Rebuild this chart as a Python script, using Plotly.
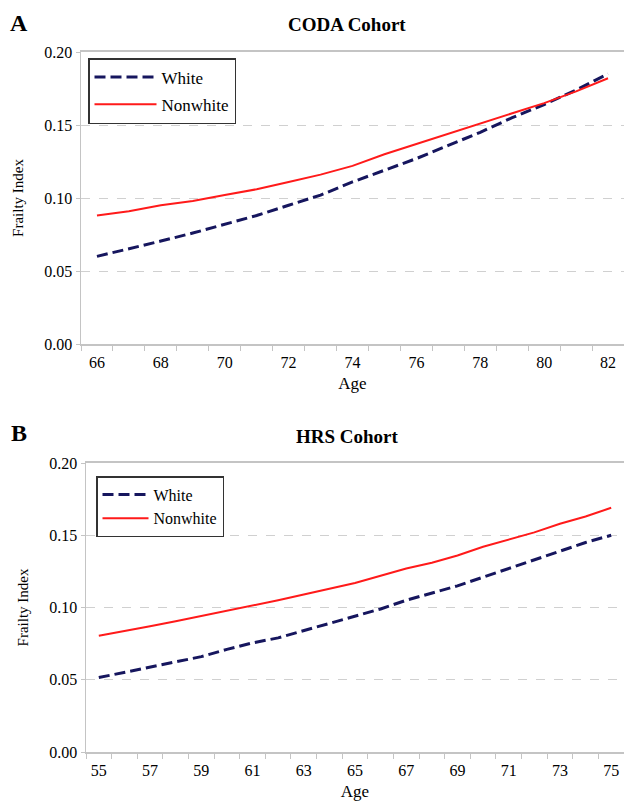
import plotly.graph_objects as go

# ---- data ----
ages_coda = list(range(66, 83))
coda_white = [0.060, 0.065, 0.0705, 0.076, 0.082, 0.088, 0.095, 0.102, 0.111,
              0.119, 0.127, 0.136, 0.145, 0.155, 0.164, 0.174, 0.185]
coda_nonwhite = [0.088, 0.091, 0.095, 0.098, 0.102, 0.106, 0.111, 0.116, 0.122,
                 0.130, 0.137, 0.144, 0.151, 0.158, 0.165, 0.173, 0.182]

ages_hrs = list(range(55, 76))
hrs_white = [0.0515, 0.055, 0.059, 0.0625, 0.066, 0.071, 0.0755, 0.079, 0.084, 0.089,
             0.094, 0.099, 0.105, 0.110, 0.115, 0.121, 0.127, 0.133, 0.139, 0.145, 0.150]
hrs_nonwhite = [0.0805, 0.0835, 0.087, 0.0905, 0.094, 0.098, 0.1015, 0.105, 0.109, 0.113,
                0.117, 0.122, 0.127, 0.131, 0.136, 0.142, 0.147, 0.152, 0.158, 0.163, 0.169]

coda_ticks = list(range(66, 83, 2))
hrs_ticks = list(range(55, 76, 2))
y_ticks = [0.00, 0.05, 0.10, 0.15, 0.20]

W, H = 624, 805
FONT = "Liberation Serif"
NAVY = "#16165e"
RED = "#ff1a1a"
AXC = "#c4c4c4"
DASH = "11px,5px"

fig = go.Figure()
fig.add_trace(go.Scatter(x=ages_coda, y=coda_white, mode="lines", name="White",
                         line=dict(color=NAVY, width=3, dash=DASH), legendgroup="a1",
                         xaxis="x", yaxis="y", legend="legend"))
fig.add_trace(go.Scatter(x=ages_coda, y=coda_nonwhite, mode="lines", name="Nonwhite",
                         line=dict(color=RED, width=2), legendgroup="a2",
                         xaxis="x", yaxis="y", legend="legend"))
fig.add_trace(go.Scatter(x=ages_hrs, y=hrs_white, mode="lines", name="White",
                         line=dict(color=NAVY, width=3, dash=DASH), legendgroup="b1",
                         xaxis="x2", yaxis="y2", legend="legend2"))
fig.add_trace(go.Scatter(x=ages_hrs, y=hrs_nonwhite, mode="lines", name="Nonwhite",
                         line=dict(color=RED, width=2), legendgroup="b2",
                         xaxis="x2", yaxis="y2", legend="legend2"))


def px_x(p):
    return p / W


def px_y(p):
    return 1 - p / H


def xaxis_cfg(ages, ticks, left):
    return dict(
        domain=[px_x(left), 1.0],
        range=[ages[0] - 0.5, ages[-1] + 0.5],
        tickmode="array", tickvals=ticks, ticktext=[str(t) for t in ticks],
        ticks="", showgrid=False, zeroline=False,
        showline=True, linecolor=AXC, linewidth=2, mirror=True,
        minor=dict(tickmode="array",
                   tickvals=[a - 0.5 for a in ages] + [ages[-1] + 0.5],
                   ticks="outside", ticklen=5, tickcolor=AXC, tickwidth=1),
        tickfont=dict(family=FONT, size=16, color="black"),
        ticklabelstandoff=3,
        title=dict(text="Age", font=dict(family=FONT, size=17, color="black"), standoff=7),
        automargin=False, fixedrange=True,
    )


def yaxis_cfg(top, bottom):
    return dict(
        domain=[px_y(bottom), px_y(top)],
        range=[0, 0.20], tickmode="array", tickvals=y_ticks,
        ticktext=[f"{v:.2f}" for v in y_ticks],
        showgrid=True, gridcolor="#d0d0d0", griddash="dash", gridwidth=1,
        zeroline=False, showline=True, linecolor=AXC, linewidth=1.5,
        ticks="outside", ticklen=4, tickcolor=AXC,
        tickfont=dict(family=FONT, size=16, color="black"),
        title=dict(text="Frailty Index", font=dict(family=FONT, size=15, color="black"),
                   standoff=17),
        automargin=False, fixedrange=True,
    )


xa = xaxis_cfg(ages_coda, coda_ticks, 81)
xa["anchor"] = "y"
xb = xaxis_cfg(ages_hrs, hrs_ticks, 86)
xb["anchor"] = "y2"
ya = yaxis_cfg(52, 344)
ya["anchor"] = "x"
yb = yaxis_cfg(463, 752)
yb["anchor"] = "x2"

fig.update_layout(
    width=W, height=H,
    margin=dict(l=0, r=0, t=0, b=0),
    paper_bgcolor="white", plot_bgcolor="white",
    font=dict(family=FONT, color="black"),
    xaxis=xa, yaxis=ya, xaxis2=xb, yaxis2=yb,
    legend=dict(x=px_x(88), y=px_y(58), xanchor="left", yanchor="top",
                bordercolor="#333333", borderwidth=1.5, bgcolor="white",
                font=dict(family=FONT, size=17, color="black"),
                itemwidth=62, tracegroupgap=2),
    legend2=dict(x=px_x(96), y=px_y(476), xanchor="left", yanchor="top",
                 bordercolor="#333333", borderwidth=1.5, bgcolor="white",
                 font=dict(family=FONT, size=16, color="black"),
                 itemwidth=46, tracegroupgap=0),
    showlegend=True,
    annotations=[
        dict(text="<b>CODA Cohort</b>", x=px_x(347), y=px_y(25), xref="paper", yref="paper",
             xanchor="center", yanchor="middle",
             showarrow=False, font=dict(family=FONT, size=19, color="black")),
        dict(text="<b>A</b>", x=px_x(19), y=px_y(23), xref="paper", yref="paper",
             xanchor="center", yanchor="middle",
             showarrow=False, font=dict(family=FONT, size=24, color="black")),
        dict(text="<b>HRS Cohort</b>", x=px_x(347), y=px_y(437), xref="paper", yref="paper",
             xanchor="center", yanchor="middle",
             showarrow=False, font=dict(family=FONT, size=19, color="black")),
        dict(text="<b>B</b>", x=px_x(19), y=px_y(433), xref="paper", yref="paper",
             xanchor="center", yanchor="middle",
             showarrow=False, font=dict(family=FONT, size=24, color="black")),
    ],
)

fig.write_html("out.html",
               config={"displayModeBar": False, "staticPlot": True},
               post_script="document.body.style.margin='0';document.body.style.overflow='hidden';")
